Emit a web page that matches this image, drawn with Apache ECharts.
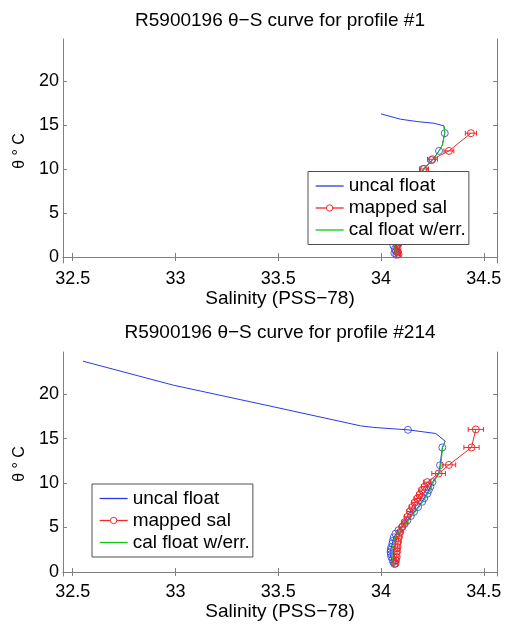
<!DOCTYPE html>
<html>
<head>
<meta charset="utf-8">
<script src="https://cdn.jsdelivr.net/npm/echarts@6/dist/echarts.min.js"></script>
<style>html,body{margin:0;padding:0;background:#fff}#c{width:506px;height:629px}</style>
</head>
<body>
<div id="c"></div>
<script>
// ---- tick labels ----
const xTicks = [32.5, 33, 33.5, 34, 34.5];
const yTicks = [0, 5, 10, 15, 20];
const titles = ['R5900196 \u03b8\u2212S curve for profile #1', 'R5900196 \u03b8\u2212S curve for profile #214'];
const legendNames = ['uncal float', 'mapped sal', 'cal float w/err.'];

// ---- profile #1 ----
const uncal1_S = [34.00, 34.095, 34.176, 34.258, 34.306, 34.31, 34.298, 34.282, 34.25, 34.21, 34.17, 34.13, 34.10, 34.08, 34.065, 34.06, 34.07, 34.075];
const uncal1_T = [16.25, 15.65, 15.38, 15.19, 14.89, 14.1, 12.7, 12.05, 11.0, 10.1, 8.6, 7.0, 5.2, 3.5, 2.2, 1.3, 0.7, 0.3];
const circ1_S = [34.31, 34.282, 34.245, 34.205, 34.06, 34.067, 34.072, 34.08, 34.075, 34.065];
const circ1_T = [14.06, 12.05, 11.0, 10.0, 1.3, 0.9, 0.65, 0.5, 0.25, 0.45];
const map1_S = [34.437, 34.33, 34.25, 34.209, 34.17, 34.13, 34.105, 34.09, 34.085, 34.08, 34.082, 34.085];
const map1_T = [14.06, 12.05, 11.1, 10.0, 8.5, 6.5, 4.5, 2.8, 1.5, 1.0, 0.6, 0.3];
const map1_E = [0.027, 0.024, 0.024, 0.022, 0.015, 0.012, 0.01, 0.01, 0.01, 0.01, 0.01, 0.01];
const cal1_S = [34.306, 34.31, 34.298, 34.282, 34.25, 34.21, 34.17, 34.13, 34.10, 34.08, 34.065, 34.06, 34.07, 34.075];
const cal1_T = [14.89, 14.1, 12.7, 12.05, 11.0, 10.1, 8.6, 7.0, 5.2, 3.5, 2.2, 1.3, 0.7, 0.3];

// ---- profile #214 ----
const uncal2_S = [32.55, 32.99, 33.477, 33.90, 33.965, 34.131, 34.266, 34.312, 34.298, 34.287, 34.28, 34.25, 34.232, 34.21, 34.18, 34.145, 34.115, 34.085, 34.062, 34.055, 34.047, 34.048, 34.055, 34.065];
const uncal2_T = [23.7, 21.0, 18.57, 16.43, 16.25, 15.98, 15.57, 14.7, 14.0, 12.0, 11.07, 10.1, 9.2, 8.3, 7.3, 6.3, 5.4, 4.7, 3.9, 3.2, 2.5, 1.7, 1.1, 0.8];
const circ2_S = [34.131, 34.298, 34.287, 34.25, 34.24, 34.232, 34.225, 34.21, 34.2, 34.18, 34.16, 34.145, 34.128, 34.115, 34.103, 34.085, 34.07, 34.062, 34.057, 34.055, 34.05, 34.047, 34.046, 34.048, 34.05, 34.055, 34.06, 34.065];
const circ2_T = [15.98, 14.0, 12.0, 10.1, 9.6, 9.2, 8.8, 8.3, 7.9, 7.3, 6.75, 6.3, 5.8, 5.4, 5.07, 4.7, 4.3, 3.9, 3.5, 3.2, 2.8, 2.5, 2.25, 2.0, 1.7, 1.4, 1.1, 0.9];
const map2_S = [34.461, 34.44, 34.33, 34.28, 34.225, 34.212, 34.2, 34.188, 34.176, 34.164, 34.152, 34.14, 34.128, 34.115, 34.103, 34.093, 34.087, 34.083, 34.08, 34.078, 34.076, 34.073, 34.07];
const map2_T = [16.03, 14.0, 12.04, 11.07, 10.1, 9.6, 9.2, 8.7, 8.26, 7.8, 7.3, 6.8, 6.2, 5.6, 5.07, 4.5, 3.94, 3.4, 2.8, 2.3, 1.69, 1.3, 0.95];
const map2_E = [0.037, 0.037, 0.033, 0.033, 0.018, 0.016, 0.016, 0.015, 0.015, 0.015, 0.015, 0.014, 0.014, 0.013, 0.013, 0.012, 0.012, 0.012, 0.011, 0.011, 0.011, 0.011, 0.011];
const cal2_S = [34.312, 34.3, 34.29, 34.283, 34.255, 34.237, 34.215, 34.185, 34.15, 34.12, 34.09, 34.068, 34.06, 34.052, 34.053, 34.06, 34.068];
const cal2_T = [14.7, 14.0, 12.0, 11.07, 10.1, 9.2, 8.3, 7.3, 6.3, 5.4, 4.7, 3.9, 3.2, 2.5, 1.7, 1.1, 0.8];

const BLUE = '#2a3be0', RED = '#f02828', GREEN = '#10c810', AX = '#808080';
const FONT = 'Liberation Sans';
const zip = (a, b) => a.map((v, i) => [v, b[i]]);
const zip3 = (a, b, c) => a.map((v, i) => [v, b[i], c[i]]);

const grids = [
  {left: 63, right: 9, top: 39, height: 224, yMin: -0.68, yMax: 24.76},
  {left: 63, right: 9, top: 352, height: 224, yMin: -0.45, yMax: 24.73}
];
const xMin = 32.453, xMax = 34.564;

const xAxes = [], yAxes = [];
grids.forEach((g, gi) => {
  xAxes.push({
    type: 'value', gridIndex: gi, position: 'bottom', min: xMin, max: xMax,
    name: 'Salinity (PSS\u221278)', nameLocation: 'middle', nameGap: 26,
    nameTextStyle: {fontSize: 19, color: '#000', fontFamily: FONT},
    axisLine: {show: true, lineStyle: {color: AX, width: 1}},
    axisTick: {show: true, inside: true, length: 4, customValues: xTicks, lineStyle: {color: AX}},
    axisLabel: {show: true, margin: 7, fontSize: 18, color: '#000', fontFamily: FONT, customValues: xTicks},
    splitLine: {show: false}
  });
  xAxes.push({
    type: 'value', gridIndex: gi, position: 'top', min: xMin, max: xMax,
    axisLine: {show: true, lineStyle: {color: AX, width: 1}},
    axisTick: {show: true, inside: true, length: 4, customValues: xTicks, lineStyle: {color: AX}},
    axisLabel: {show: false}, splitLine: {show: false}
  });
  yAxes.push({
    type: 'value', gridIndex: gi, position: 'left', min: g.yMin, max: g.yMax,
    name: '\u03b8 \u00b0 C', nameLocation: 'middle', nameGap: 35, nameRotate: 90,
    nameTextStyle: {fontSize: 16, color: '#000', fontFamily: FONT},
    axisLine: {show: true, lineStyle: {color: AX, width: 1}},
    axisTick: {show: true, inside: true, length: 4, customValues: yTicks, lineStyle: {color: AX}},
    axisLabel: {show: true, margin: 4, fontSize: 18, color: '#000', fontFamily: FONT, customValues: yTicks},
    splitLine: {show: false}
  });
  yAxes.push({
    type: 'value', gridIndex: gi, position: 'right', min: g.yMin, max: g.yMax,
    axisLine: {show: true, lineStyle: {color: AX, width: 1}},
    axisTick: {show: true, inside: true, length: 4, customValues: yTicks, lineStyle: {color: AX}},
    axisLabel: {show: false}, splitLine: {show: false}
  });
});

function errRender(params, api) {
  const s = api.value(0), t = api.value(1), e = api.value(2);
  const a = api.coord([s - e, t]), b = api.coord([s + e, t]);
  const h = 2.5;
  const st = {stroke: RED, lineWidth: 1, fill: null};
  return {type: 'group', children: [
    {type: 'line', shape: {x1: a[0], y1: a[1], x2: b[0], y2: b[1]}, style: st},
    {type: 'line', shape: {x1: a[0], y1: a[1] - h, x2: a[0], y2: a[1] + h}, style: st},
    {type: 'line', shape: {x1: b[0], y1: b[1] - h, x2: b[0], y2: b[1] + h}, style: st}
  ]};
}

const sets = [
  {u: zip(uncal1_S, uncal1_T), c: zip(circ1_S, circ1_T), m: zip(map1_S, map1_T), e: zip3(map1_S, map1_T, map1_E), k: zip(cal1_S, cal1_T)},
  {u: zip(uncal2_S, uncal2_T), c: zip(circ2_S, circ2_T), m: zip(map2_S, map2_T), e: zip3(map2_S, map2_T, map2_E), k: zip(cal2_S, cal2_T)}
];

const series = [];
sets.forEach((d, gi) => {
  const xi = gi * 2, yi = gi * 2;
  series.push({name: 'uncal float', type: 'line', xAxisIndex: xi, yAxisIndex: yi, data: d.u, symbol: 'none',
    color: BLUE, lineStyle: {color: BLUE, width: 1}, z: 2});
  series.push({type: 'scatter', xAxisIndex: xi, yAxisIndex: yi, data: d.c, symbol: 'circle', symbolSize: 7,
    itemStyle: {color: 'rgba(0,0,0,0)', borderColor: BLUE, borderWidth: 1}, z: 3});
  series.push({type: 'custom', xAxisIndex: xi, yAxisIndex: yi, data: d.e, renderItem: errRender,
    encode: {x: 0, y: 1}, z: 4});
  series.push({name: 'mapped sal', type: 'line', xAxisIndex: xi, yAxisIndex: yi, data: d.m, symbol: 'circle', symbolSize: 7,
    showAllSymbol: true, color: RED, lineStyle: {color: RED, width: 1},
    itemStyle: {color: 'rgba(0,0,0,0)', borderColor: RED, borderWidth: 1}, z: 4});
  series.push({name: 'cal float w/err.', type: 'line', xAxisIndex: xi, yAxisIndex: yi, data: d.k, symbol: 'none',
    color: GREEN, lineStyle: {color: GREEN, width: 1}, z: 5});
});

function makeLegend(left, top) {
  return {
    data: [
      {name: legendNames[0], itemStyle: {opacity: 0, color: 'rgba(0,0,0,0)', borderWidth: 0}, lineStyle: {color: BLUE, width: 1.3}},
      {name: legendNames[1], itemStyle: {color: '#fff', borderColor: RED, borderWidth: 1}, lineStyle: {color: RED, width: 1.3}},
      {name: legendNames[2], itemStyle: {opacity: 0, color: 'rgba(0,0,0,0)', borderWidth: 0}, lineStyle: {color: GREEN, width: 1.3}}
    ],
    left: left, top: top,
    orient: 'vertical', itemWidth: 28, itemHeight: 8, itemGap: 3,
    padding: [5, 3, 5, 7], backgroundColor: '#fff', borderColor: '#505050', borderWidth: 1,
    borderRadius: 0, textStyle: {fontSize: 19, color: '#000', fontFamily: FONT}, selectedMode: false, z: 10
  };
}

const option = {
  animation: false,
  backgroundColor: '#fff',
  textStyle: {fontFamily: FONT},
  title: [
    {text: titles[0], left: 280, top: 11, textAlign: 'center', padding: 0,
      textStyle: {fontSize: 19, fontWeight: 'normal', color: '#000', fontFamily: FONT}},
    {text: titles[1], left: 280, top: 323, textAlign: 'center', padding: 0,
      textStyle: {fontSize: 19, fontWeight: 'normal', color: '#000', fontFamily: FONT}}
  ],
  grid: grids.map(g => ({left: g.left, right: g.right, top: g.top, height: g.height, containLabel: false})),
  xAxis: xAxes,
  yAxis: yAxes,
  legend: [makeLegend(308, 171.5), makeLegend(92, 484)],
  series: series
};

const chart = echarts.init(document.getElementById('c'), null, {renderer: 'canvas'});
chart.setOption(option);
</script>
</body>
</html>
